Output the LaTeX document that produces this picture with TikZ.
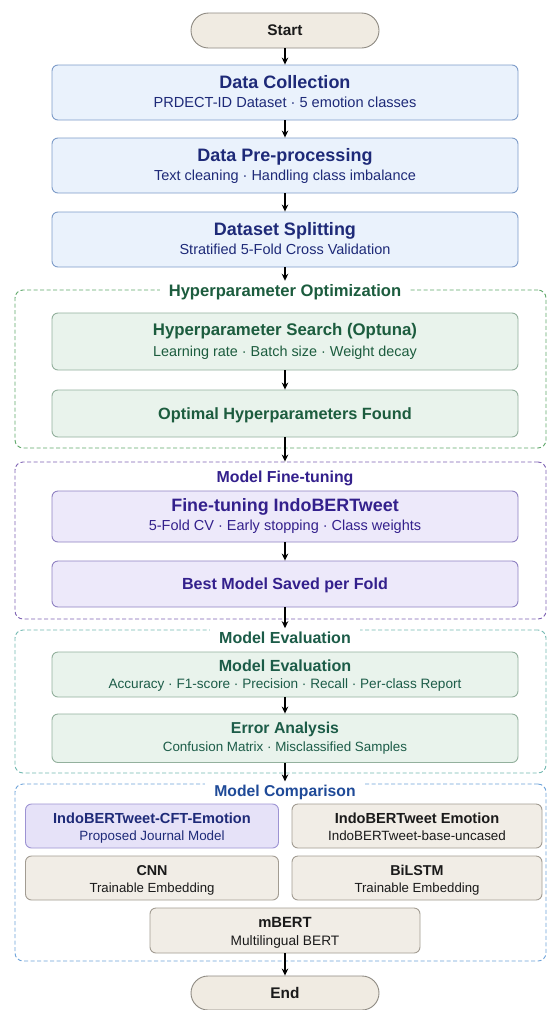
\documentclass[tikz,border=0pt]{standalone}
\usepackage{fontspec}
\setmainfont{Liberation Sans}
\usetikzlibrary{arrows.meta,shapes.misc}
\definecolor{navy}{HTML}{1E2A78}
\definecolor{blueFill}{HTML}{EAF2FC}
\definecolor{blueLine}{HTML}{7E9CC9}
\definecolor{grnFill}{HTML}{E9F3EC}
\definecolor{grnLine}{HTML}{93B09D}
\definecolor{grnText}{HTML}{1C5C3E}
\definecolor{hypDash}{HTML}{5FA86A}
\definecolor{purFill}{HTML}{EDE9FA}
\definecolor{purLine}{HTML}{8F82C2}
\definecolor{purText}{HTML}{33208C}
\definecolor{purDash}{HTML}{7E62B3}
\definecolor{evDash}{HTML}{72B9B1}
\definecolor{evText}{HTML}{1C5C48}
\definecolor{cmpDash}{HTML}{6CA2DA}
\definecolor{cmpText}{HTML}{1F4A98}
\definecolor{beigeFill}{HTML}{F1EDE6}
\definecolor{beigeLine}{HTML}{A29C92}
\definecolor{pilFill}{HTML}{F0EBE2}
\definecolor{pilLine}{HTML}{8E8A82}
\definecolor{cpFill}{HTML}{E6E2F8}
\definecolor{cpLine}{HTML}{9D93D3}
\definecolor{darkTxt}{HTML}{1A1A1A}
\begin{document}
\begin{tikzpicture}[x=1pt,y=-1pt,
  basebox/.style={draw, line width=0.9pt, rounded corners=6pt, inner sep=0pt},
  bluebox/.style={basebox, draw=blueLine, fill=blueFill, minimum width=466pt},
  grnbox/.style={basebox, draw=grnLine, fill=grnFill, minimum width=466pt},
  purbox/.style={basebox, draw=purLine, fill=purFill, minimum width=466pt},
  begbox/.style={basebox, draw=beigeLine, fill=beigeFill},
  cpbox/.style={basebox, draw=cpLine, fill=cpFill},
  pill/.style={rounded rectangle, draw=pilLine, fill=pilFill, line width=0.9pt,
    minimum width=188pt, inner sep=0pt, text=darkTxt,
    font=\bfseries\fontsize{15.4}{15.4}\selectfont},
  cont/.style={draw, dash pattern=on 4pt off 2.5pt, line width=0.9pt,
    rounded corners=8pt, inner sep=0pt, minimum width=531pt},
  ttl/.style={anchor=base, inner sep=0pt, font=\bfseries\fontsize{#1}{#1}\selectfont},
  sub/.style={anchor=base, inner sep=0pt, font=\fontsize{#1}{#1}\selectfont},
  sec/.style={anchor=base, inner xsep=9pt, inner ysep=3pt, fill=white,
    font=\bfseries\fontsize{#1}{#1}\selectfont},
  arr/.style={-{Stealth[length=7pt,width=6.5pt]}, line width=1.3pt, black}
]
\fill[white] (0,0) rectangle (548,1010);
\useasboundingbox (0,0) rectangle (548,1010);

% containers
\node[cont, draw=hypDash, minimum height=158pt] (hypc) at (280.5,369) {};
\node[cont, draw=purDash, minimum height=157pt] (ftc) at (280.5,540.5) {};
\node[cont, draw=evDash, minimum height=143pt] (evc) at (280.5,701.5) {};
\node[cont, draw=cmpDash, minimum height=177pt] (cmpc) at (280.5,872.5) {};

% section titles
\node[sec=16.6, text=grnText] (hypt) at (285,296) {Hyperparameter Optimization};
\node[ttl=15.9, text=purText] (ftt) at (285,482) {Model Fine-tuning};
\node[sec=16, text=evText] (evt) at (285,643) {Model Evaluation};
\node[sec=15.7, text=cmpText] (cmpt) at (285,796) {Model Comparison};

% start
\node[pill, minimum height=35pt] (start) at (285,30.5) {Start};

% blue boxes
\node[bluebox, minimum height=55pt] (dc) at (285,92.5) {};
\node[ttl=18, text=navy] (dct) at (285,88) {Data Collection};
\node[sub=14.6, text=navy] (dcs) at (285,107.5) {PRDECT-ID Dataset · 5 emotion classes};

\node[bluebox, minimum height=55pt] (pp) at (285,165.5) {};
\node[ttl=18, text=navy] (ppt) at (285,161) {Data Pre-processing};
\node[sub=14.5, text=navy] (pps) at (285,180.5) {Text cleaning · Handling class imbalance};

\node[bluebox, minimum height=55pt] (ds) at (285,239.5) {};
\node[ttl=18, text=navy] (dst) at (285,235) {Dataset Splitting};
\node[sub=14.5, text=navy] (dss) at (285,254.5) {Stratified 5-Fold Cross Validation};

% hyperparameter boxes
\node[grnbox, minimum height=57pt] (hs) at (285,341.5) {};
\node[ttl=16.8, text=grnText] (hst) at (285,335) {Hyperparameter Search (Optuna)};
\node[sub=14.4, text=grnText] (hss) at (285,356) {Learning rate · Batch size · Weight decay};

\node[grnbox, minimum height=47pt] (opt) at (285,413.5) {};
\node[ttl=16.3, text=grnText] (optt) at (285,419.3) {Optimal Hyperparameters Found};

% fine-tuning boxes
\node[purbox, minimum height=51pt] (ft) at (285,516.5) {};
\node[ttl=17.9, text=purText] (ftbt) at (285,511.7) {Fine-tuning IndoBERTweet};
\node[sub=14.5, text=purText] (ftbs) at (285,530) {5-Fold CV · Early stopping · Class weights};

\node[purbox, minimum height=46pt] (bm) at (285,584) {};
\node[ttl=16.1, text=purText] (bmt) at (285,589.8) {Best Model Saved per Fold};

% evaluation boxes
\node[grnbox, minimum height=45pt] (ev) at (285,674.5) {};
\node[ttl=16.1, text=evText] (evbt) at (285,671.7) {Model Evaluation};
\node[sub=13.6, text=evText] (evbs) at (285,688) {Accuracy · F1-score · Precision · Recall · Per-class Report};

\node[grnbox, minimum height=48.5pt] (ea) at (285,738.25) {};
\node[ttl=15.8, text=evText] (eat) at (285,733) {Error Analysis};
\node[sub=13.4, text=evText] (eas) at (285,751.7) {Confusion Matrix · Misclassified Samples};

% comparison boxes
\node[cpbox, minimum width=253pt, minimum height=44pt] (m1) at (152,826) {};
\node[ttl=14.6, text=navy] (m1t) at (152,823) {IndoBERTweet-CFT-Emotion};
\node[sub=13.4, text=navy] (m1s) at (152,840) {Proposed Journal Model};

\node[begbox, minimum width=250pt, minimum height=44pt] (m2) at (417,826) {};
\node[ttl=14.6, text=darkTxt] (m2t) at (417,823) {IndoBERTweet Emotion};
\node[sub=13.4, text=darkTxt] (m2s) at (417,840) {IndoBERTweet-base-uncased};

\node[begbox, minimum width=253pt, minimum height=44pt] (m3) at (152,878) {};
\node[ttl=14.3, text=darkTxt] (m3t) at (152,875) {CNN};
\node[sub=13.2, text=darkTxt] (m3s) at (152,892) {Trainable Embedding};

\node[begbox, minimum width=250pt, minimum height=44pt] (m4) at (417,878) {};
\node[ttl=14.3, text=darkTxt] (m4t) at (417,875) {BiLSTM};
\node[sub=13.2, text=darkTxt] (m4s) at (417,892) {Trainable Embedding};

\node[begbox, minimum width=270pt, minimum height=45pt] (m5) at (285,930.5) {};
\node[ttl=14.8, text=darkTxt] (m5t) at (285,927.7) {mBERT};
\node[sub=13.7, text=darkTxt] (m5s) at (285,945) {Multilingual BERT};

% end
\node[pill, minimum height=34pt] (endn) at (285,993) {End};

% arrows
\draw[arr] (start.south) -- (dc.north);
\draw[arr] (dc.south) -- (pp.north);
\draw[arr] (pp.south) -- (ds.north);
\draw[arr] (ds.south) -- (hypt.north);
\draw[arr] (hs.south) -- (opt.north);
\draw[arr] (opt.south) -- (opt.south |- ftc.north);
\draw[arr] (ft.south) -- (bm.north);
\draw[arr] (bm.south) -- (evt.north);
\draw[arr] (ev.south) -- (ea.north);
\draw[arr] (ea.south) -- (cmpt.north);
\draw[arr] (m5.south) -- (endn.north);
\end{tikzpicture}
\end{document}
